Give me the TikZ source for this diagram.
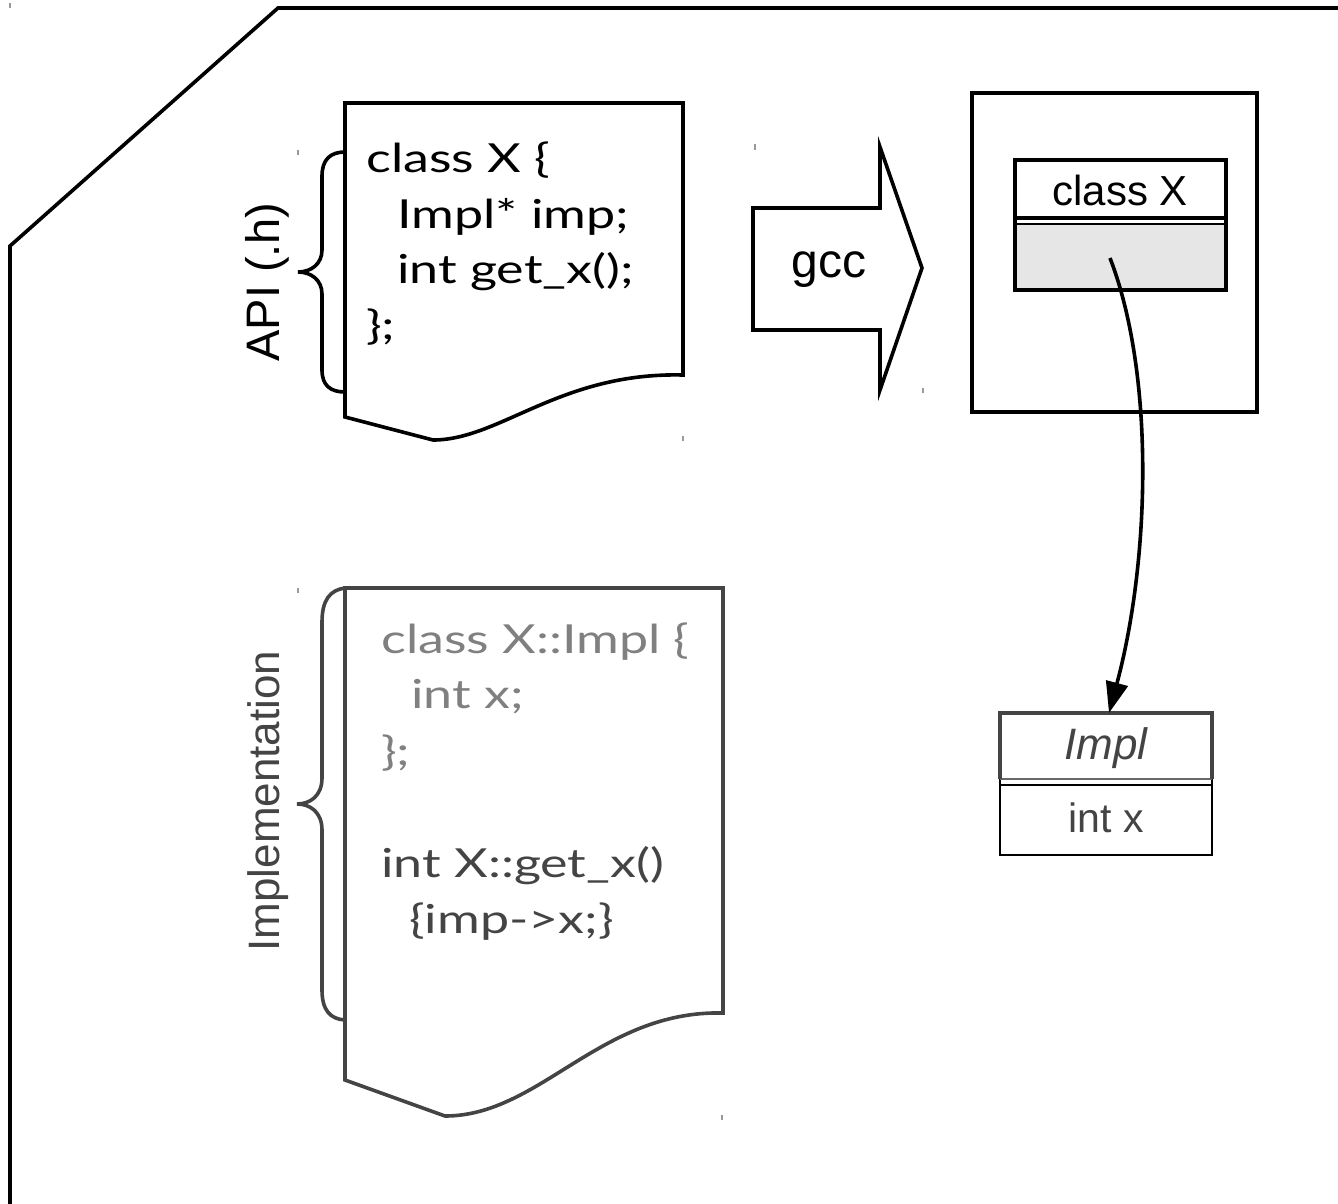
\documentclass[tikz,border=0pt]{standalone}
\usepackage{fontspec}
\setmainfont{Liberation Sans}
\newfontfamily\codefont[FakeStretch=1.3]{Lato}
\usetikzlibrary{arrows.meta}
\definecolor{dk}{HTML}{444444}
\definecolor{lt}{HTML}{808080}
\definecolor{fillg}{HTML}{E6E6E6}
\definecolor{thin}{HTML}{8C8C8C}
\definecolor{tick}{HTML}{9A9A9A}
\tikzset{
  frame/.style={line width=3.6pt, line join=miter},
  doc/.style={line width=3.6pt, line join=miter},
  bracepath/.style={line width=3.6pt},
  code/.style={font=\codefont\fontsize{40pt}{48pt}\selectfont, anchor=base west, inner sep=0pt},
  lbl/.style={inner sep=0pt},
  ticky/.style={draw=tick, line width=1.2pt},
}
\begin{document}
\begin{tikzpicture}[x=1pt,y=-1pt]
\path[use as bounding box] (0,0) rectangle (1338,1204);

% outer frame
\draw[frame] (10,1215) -- (10,246) -- (278,8) -- (1345,8);

% tiny tick marks
\foreach \tx/\ty [count=\i] in {10/6,298/152,755/147,683/438,923/390,298/590,722/1117}
  \draw[ticky] (\tx,\ty-2.5) -- (\tx,\ty+2.5);

% document 1 (API)
\draw[doc] (345,103) -- (683,103) -- (683,375) .. controls (560,372) and (500,440) .. (433,440) -- (345,417) -- cycle;
\draw[bracepath] (345,152) .. controls (330,152) and (322,160) .. (322,176) -- (322,250)
  .. controls (322,264) and (311,272) .. (298,272)
  .. controls (311,272) and (322,280) .. (322,294) -- (322,370)
  .. controls (322,385) and (330,392) .. (345,392);
\node[lbl, rotate=90, font=\fontsize{47pt}{56pt}\selectfont] (api) at (267,282) {API (.h)};
\node[code] (a1) at (366,172) {class X \{};
\node[code] (a2) at (397,228) {Impl* imp;};
\node[code] (a3) at (397,283) {int get\_x();};
\node[code] (a4) at (366,339) {\};};

% gcc arrow
\draw[doc] (753,208) -- (880,208) -- (880,147) -- (922,268) -- (880,390) -- (880,330) -- (753,330) -- cycle;
\node[lbl, font=\fontsize{48pt}{56pt}\selectfont] (gcc) at (829,270) {gcc};

% compiled object box
\draw[frame] (972,93) rectangle (1257,412);
\fill[fillg] (1015,224) rectangle (1226,290);
\draw[line width=3.4pt] (1015,160) rectangle (1226,290);
\draw[line width=3.4pt] (1015,218) -- (1226,218);
\draw[line width=2.2pt] (1015,224) -- (1226,224);
\node[lbl, font=\fontsize{42pt}{50pt}\selectfont] (clsx) at (1120,190) {class X};
\coordinate (ptr) at (1110,258);

% Impl box
\draw[thin, line width=1.6pt] (1000,713) rectangle (1212,855);
\draw[dk!80!white, line width=1.6pt] (1000,779) -- (1212,779);
\draw[thin, line width=1.6pt] (1000,785) -- (1212,785);
\draw[dk, line width=3.6pt] (1000,779) -- (1000,713) -- (1212,713) -- (1212,779);
\coordinate (impltop) at (1109,713);
\node[lbl, text=dk, font=\fontsize{44pt}{52pt}\selectfont\itshape] (impl) at (1106,748) {Impl};
\node[lbl, text=dk, font=\fontsize{41pt}{48pt}\selectfont] (intx) at (1106,818) {int x};

% pointer arrow
\draw[line width=3.6pt, -{Triangle[length=31pt,width=22pt]}] (ptr) .. controls (1155,375) and (1150,560) .. (impltop);

% document 2 (implementation)
\draw[doc, dk] (345,588) -- (723,588) -- (723,1013) .. controls (600,1010) and (540,1116) .. (445,1116) -- (345,1080) -- cycle;
\draw[bracepath, dk] (345,588) .. controls (330,590) and (322,600) .. (322,622) -- (322,778)
  .. controls (322,796) and (310,804) .. (297,804)
  .. controls (310,804) and (322,812) .. (322,830) -- (322,990)
  .. controls (322,1010) and (330,1019) .. (345,1020);
\node[lbl, rotate=90, text=dk, font=\fontsize{44pt}{52pt}\selectfont] (implabel) at (268,801) {Implementation};
\node[code, text=lt] (b1) at (381,653) {class X::Impl \{};
\node[code, text=lt] (b2) at (411,708) {int x;};
\node[code, text=lt] (b3) at (381,765) {\};};
\node[code, text=dk] (b4) at (381,877) {int X::get\_x()};
\node[code, text=dk] (b5) at (409,933) {\{imp->x;\}};

\end{tikzpicture}
\end{document}
